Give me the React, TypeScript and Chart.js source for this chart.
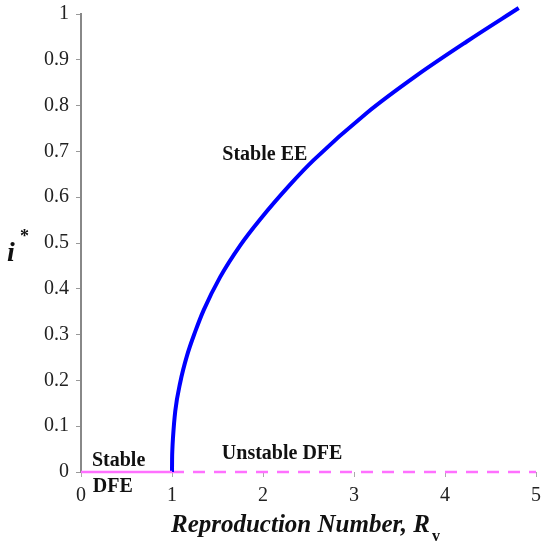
import React, { useEffect, useRef } from "react";
import { Chart, registerables } from "chart.js";

Chart.register(...registerables);

// Endemic equilibrium curve
const eeX = [1, 1.001, 1.004, 1.011, 1.036, 1.091, 1.165, 1.256, 1.347, 1.53, 1.75, 1.97, 2.3, 2.556, 3.14, 3.69, 4.24, 4.81];
const eeY = [0, 0.027, 0.049, 0.075, 0.133, 0.196, 0.254, 0.307, 0.353, 0.426, 0.495, 0.552, 0.628, 0.681, 0.784, 0.866, 0.94, 1.013];
// Disease-free equilibrium
const dfeStableX = [0, 1];
const dfeStableY = [0, 0];
const dfeUnstableX = [1, 5];
const dfeUnstableY = [0, 0];

const xMin = 0, xMax = 5, xStep = 1;
const yMin = 0, yMax = 1, yStep = 0.1;

const labels = [
  { text: "Stable EE", x: 2.02, y: 0.692, align: "center" },
  { text: "Unstable DFE", x: 2.21, y: 0.04, align: "center" },
  { text: "Stable", x: 0.12, y: 0.024, align: "left" },
  { text: "DFE", x: 0.13, y: -0.032, align: "left" },
];

const SERIF = "'Liberation Serif', 'DejaVu Serif', serif";

const toPts = (xs: number[], ys: number[]) => xs.map((x, i) => ({ x, y: ys[i] }));

const textPlugin = {
  id: "texts",
  afterDraw(chart: any) {
    const ctx = chart.ctx;
    const xs = chart.scales.x;
    const ys = chart.scales.y;
    const ca = chart.chartArea;
    ctx.save();
    ctx.fillStyle = "#111";
    ctx.textBaseline = "middle";
    ctx.font = `bold 20px ${SERIF}`;
    for (const l of labels) {
      ctx.textAlign = l.align;
      ctx.fillText(l.text, xs.getPixelForValue(l.x), ys.getPixelForValue(l.y));
    }
    // x title
    ctx.textBaseline = "alphabetic";
    const main = "Reproduction Number, R";
    ctx.font = `italic bold 25px ${SERIF}`;
    const w1 = ctx.measureText(main).width;
    ctx.font = `bold 16px ${SERIF}`;
    const w2 = ctx.measureText("v").width;
    const cx = (ca.left + ca.right) / 2 - 3;
    const start = cx - (w1 + w2 + 2) / 2;
    ctx.textAlign = "left";
    ctx.font = `italic bold 25px ${SERIF}`;
    ctx.fillText(main, start, 532);
    ctx.font = `bold 16px ${SERIF}`;
    ctx.fillText("v", start + w1 + 2, 541);
    // y title
    ctx.font = `italic bold 28px ${SERIF}`;
    ctx.textAlign = "left";
    ctx.fillText("i", 7, 261);
    ctx.font = `bold 18px ${SERIF}`;
    ctx.fillText("*", 20, 242);
    ctx.restore();
  },
};

export default function App() {
  const ref = useRef<HTMLCanvasElement>(null);
  useEffect(() => {
    document.body.style.margin = "0";
    const chart = new Chart(ref.current!, {
      type: "scatter",
      data: {
        datasets: [
          {
            data: toPts(dfeStableX, dfeStableY),
            showLine: true,
            borderColor: "#ff70ff",
            borderWidth: 2.5,
            pointRadius: 0,
            clip: false as any,
          },
          {
            data: toPts(eeX, eeY),
            showLine: true,
            borderColor: "#0000ff",
            borderWidth: 4,
            pointRadius: 0,
            cubicInterpolationMode: "monotone",
            clip: false as any,
          } as any,
          {
            data: toPts(dfeUnstableX, dfeUnstableY),
            showLine: true,
            borderColor: "#ff70ff",
            borderWidth: 2.5,
            borderDash: [12, 9],
            pointRadius: 0,
            clip: false as any,
          },
        ],
      },
      options: {
        animation: false,
        responsive: false,
        maintainAspectRatio: false,
        layout: { padding: { left: 0, top: 14, right: 6, bottom: 0 } },
        plugins: { legend: { display: false }, tooltip: { enabled: false } },
        scales: {
          x: {
            type: "linear",
            min: xMin,
            max: xMax,
            ticks: { stepSize: xStep, color: "#222", font: { family: SERIF, size: 20 }, padding: 7 },
            grid: { drawOnChartArea: false, drawTicks: true, tickLength: 5, color: "#aaa" },
            border: { display: false },
            afterFit: (s: any) => { s.height = 70; s.paddingRight = 0; s.paddingLeft = 0; },
          },
          y: {
            type: "linear",
            min: yMin,
            max: yMax,
            ticks: {
              stepSize: yStep,
              color: "#222",
              font: { family: SERIF, size: 20 },
              padding: 7,
              callback: (v: any) => String(Number(Number(v).toFixed(1))),
            },
            grid: { drawOnChartArea: false, drawTicks: true, tickLength: 5, color: "#999" },
            border: { display: true, color: "#888", width: 2 },
            afterFit: (s: any) => { s.width = 81; s.paddingTop = 0; s.paddingBottom = 0; },
          },
        },
      },
      plugins: [textPlugin],
    });
    return () => chart.destroy();
  }, []);
  return (
    <div style={{ width: 542, height: 542 }}>
      <canvas ref={ref} width={542} height={542} style={{ display: "block" }} />
    </div>
  );
}
